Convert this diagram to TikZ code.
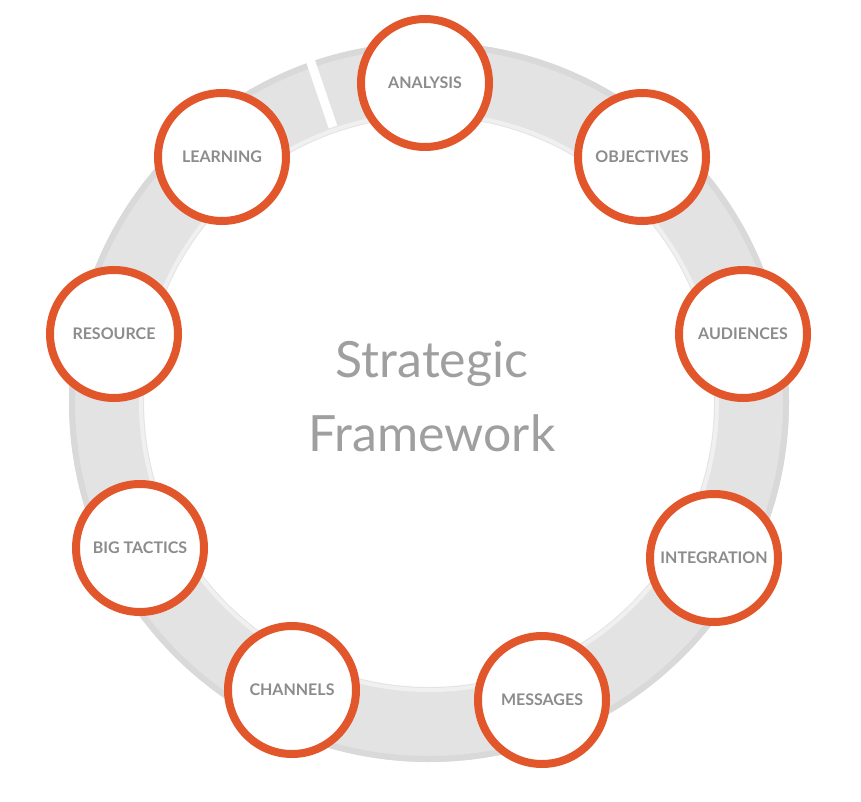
\documentclass[tikz,border=0pt]{standalone}
\usepackage{fontspec}
\setmainfont{Lato}
\definecolor{stepred}{HTML}{E2562B}
\definecolor{labelgray}{HTML}{8C8C8C}
\tikzset{
  stage/.style={circle, draw=stepred, line width=8pt, fill=white, minimum size=128pt,
    inner sep=0pt, text=labelgray, font=\fontsize{16}{18}\selectfont\bfseries},
}
\begin{document}
\begin{tikzpicture}[x=1pt,y=-1pt]
\useasboundingbox (0,0) rectangle (861,802);
% ring
\fill[even odd rule, gray!22] (429,402) circle (360) (429,402) circle (285);
\draw[gray!30, line width=6pt] (429,402) circle (357);
\draw[gray!12, line width=4pt] (429,402) circle (288);
\draw[white, line width=9pt] (429,402) ++(-96,-275) -- ++(-30,-88);
% stages
\node[stage] (analysis) at (425,83) {ANALYSIS};
\node[stage] (objectives) at (642,157) {OBJECTIVES};
\node[stage] (audiences) at (743,334) {AUDIENCES};
\node[stage] (integration) at (714,558) {INTEGRATION};
\node[stage] (messages) at (542,700) {MESSAGES};
\node[stage] (channels) at (292,690) {CHANNELS};
\node[stage] (bigtactics) at (140,548) {BIG TACTICS};
\node[stage] (resource) at (114,334) {RESOURCE};
\node[stage] (learning) at (222,157) {LEARNING};
% centre
\node[text=gray!75, align=center, font=\fontsize{50}{74}\selectfont] (title) at (432,396) {Strategic\\Framework};
\end{tikzpicture}
\end{document}
